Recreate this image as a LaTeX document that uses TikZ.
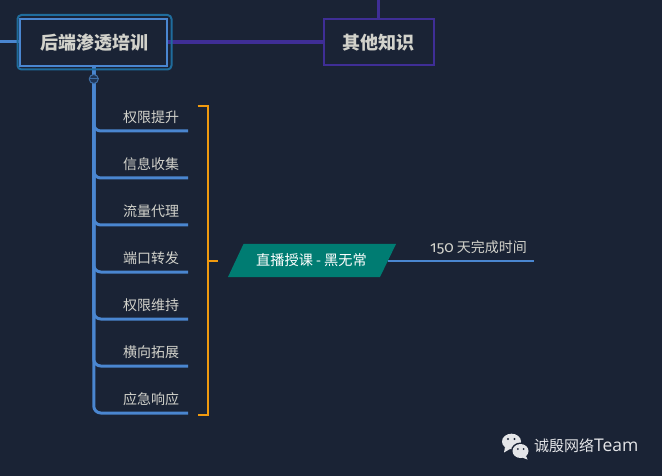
\documentclass[tikz,border=0pt]{standalone}
\usepackage{fontspec}
\setmainfont{Noto Sans CJK SC}
\newfontfamily\numfont[Numbers=OldStyle]{Fira Sans}
\newfontfamily\latinfont{Open Sans}
\definecolor{bgc}{HTML}{1A2335}
\definecolor{bluec}{HTML}{4A86D0}
\definecolor{halo}{HTML}{1F6C9C}
\definecolor{purp}{HTML}{3F2E96}
\definecolor{orangec}{HTML}{F09A0F}
\definecolor{tealc}{HTML}{007C72}
\definecolor{txt}{HTML}{D2D2CB}
\definecolor{iconc}{HTML}{E4E5E8}
\definecolor{markfill}{HTML}{1F3556}
\definecolor{markline}{HTML}{3F6EA6}
\tikzset{
  x=1pt,y=-1pt,
  rootbox/.style={draw=bluec,line width=2pt,fill=bgc,minimum width=147pt,minimum height=47pt,inner sep=0pt,outer sep=0pt,text=txt,font=\bfseries\fontsize{18}{20}\selectfont},
  otherbox/.style={draw=purp,line width=2pt,fill=bgc,minimum width=110pt,minimum height=46pt,inner sep=0pt,outer sep=0pt,text=txt,font=\bfseries\fontsize{18}{20}\selectfont},
  leaf/.style={text=txt,inner sep=0pt,font=\fontsize{14}{16}\selectfont},
  blueline/.style={draw=bluec,line width=3pt},
  branchline/.style={draw=bluec,line width=3pt,rounded corners=7pt},
  purpline/.style={draw=purp,line width=3.2pt},
  bracket/.style={draw=orangec,line width=2pt},
}
\begin{document}
\begin{tikzpicture}
\fill[bgc] (0,0) rectangle (662,476);
\useasboundingbox (0,0) rectangle (662,476);
% connectors behind the boxes
\coordinate (L0) at (0,42);
\coordinate (T0) at (378.5,0);
\node[rootbox,anchor=center] (root) at (93.75,42.5) {\phantom{后端渗透培训}};
\node[otherbox,anchor=center] (other) at (378.5,42.5) {\phantom{其他知识}};
\draw[blueline] (L0) -- (root.west |- L0);
\draw[purpline] (root.east |- 0,42) -- (other.west |- 0,42);
\draw[purpline] (T0) -- (other.north);
% branches
\foreach \n/\y in {1/131,2/178,3/225,4/272,5/319,6/366,7/413}{
  \coordinate (e\n) at (188,\y);
  \draw[branchline] (root.south) |- (e\n);
}
\draw[draw=halo,line width=2pt,rounded corners=4pt] (17.5,15) rectangle (171.5,69.5);
\node[rootbox] (rootb) at (93.75,42.5) {\hspace{1pt}后端渗透培训};
\node[otherbox] (otherb) at (378.5,42.5) {其他知识};
% collapse mark
\node[circle,draw=markline,fill=markfill,line width=1pt,minimum size=9pt,inner sep=0pt] (cm) at (93.75,79) {};
\draw[draw=markline,line width=1pt] (cm.west) -- (cm.east);
% leaves
\node[leaf] (a1) at (151,117) {权限提升};
\node[leaf] (a2) at (151,164) {信息收集};
\node[leaf] (a3) at (151,211) {流量代理};
\node[leaf] (a4) at (151,258) {端口转发};
\node[leaf] (a5) at (151,305) {权限维持};
\node[leaf] (a6) at (151,352) {横向拓展};
\node[leaf] (a7) at (151,399) {应急响应};
% bracket
\coordinate (b1) at (197.5,106);
\coordinate (b2) at (208,106);
\coordinate (b3) at (208,414.5);
\coordinate (b4) at (197.5,414.5);
\coordinate (bm) at (208,260.5);
\coordinate (bt) at (218,260.5);
\draw[bracket] (b1) -- (b2) -- (b3) -- (b4);
\draw[bracket] (bm) -- (bt);
% parallelogram
\fill[tealc] (243.5,244) -- (396,244) -- (380,277) -- (228,277) -- cycle;
\node[text=white,inner sep=0pt,font=\fontsize{14.2}{16}\selectfont] (live) at (311.5,260.5) {直播授课 - 黑无常};
% side line
\coordinate (s1) at (388,260.5);
\coordinate (s2) at (533.5,260.5);
\draw[draw=bluec,line width=2pt] (s1) -- (s2);
\node[text=txt,inner sep=0pt,anchor=west,font=\fontsize{14}{16}\selectfont] (days) at (430,247) {{\numfont\fontsize{15.5}{16}\selectfont 150} 天完成时间};
% wechat icon
\begin{scope}[iconc]
\fill (511.5,441.5) ellipse (9.5 and 7.8);
\fill (505,447) -- (504,452.5) -- (510,449) -- cycle;
\fill[bgc] (520.5,451) ellipse (9.5 and 8.5);
\fill (520.5,451) ellipse (8 and 7);
\fill (526,456) -- (527.5,459.5) -- (522,457.5) -- cycle;
\fill[bgc] (508,439) circle (1.1);
\fill[bgc] (514.5,439) circle (1.1);
\fill[bgc] (517.8,449) circle (1);
\fill[bgc] (523.5,449) circle (1);
\end{scope}
\node[text=iconc,inner sep=0pt,anchor=west,font=\fontsize{15}{17}\selectfont] (brand) at (534,446) {诚殷网络{\latinfont\fontsize{17.5}{18}\selectfont Team}};
\end{tikzpicture}
\end{document}
